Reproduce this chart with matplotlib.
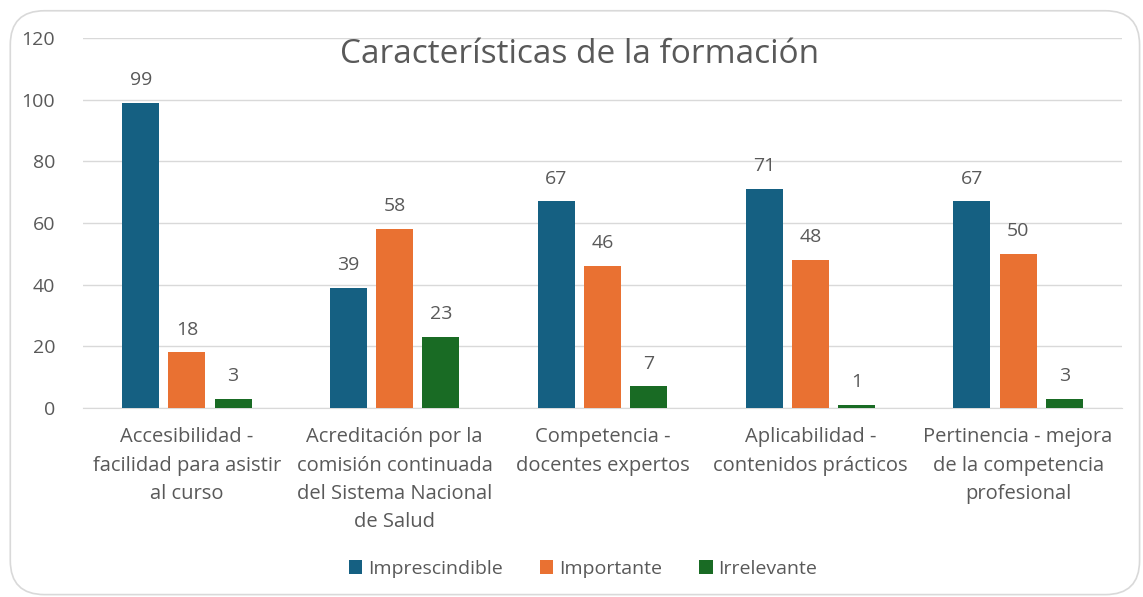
import numpy as np
import matplotlib.pyplot as plt
from matplotlib.patches import FancyBboxPatch

plt.rcParams['font.family'] = ['Open Sans', 'DejaVu Sans']

categories = ["Accesibilidad -\nfacilidad para asistir\nal curso",
              "Acreditación por la\ncomisión continuada\ndel Sistema Nacional\nde Salud",
              "Competencia -\ndocentes expertos",
              "Aplicabilidad -\ncontenidos prácticos",
              "Pertinencia - mejora\nde la competencia\nprofesional"]
series_names = ["Imprescindible", "Importante", "Irrelevante"]
imprescindible = [99, 39, 67, 71, 67]
importante = [18, 58, 46, 48, 50]
irrelevante = [3, 23, 7, 1, 3]
colors = ["#156082", "#E97132", "#196B24"]
text_color = "#595959"

fig = plt.figure(figsize=(11.43, 5.97), dpi=100)
fig.patches.append(FancyBboxPatch((0.009, 0.004), 0.988, 0.978, boxstyle="round,pad=0,rounding_size=0.03",
                                  transform=fig.transFigure, facecolor="white", edgecolor="#D9D9D9",
                                  linewidth=1.2, mutation_aspect=1.9, zorder=-5))
ax = fig.add_axes([0.0726, 0.3166, 0.909, 0.6197])
ax.set_facecolor("none")

x = np.arange(len(categories))
w = 0.178
step = 0.222
for i, (vals, name, c) in enumerate(zip([imprescindible, importante, irrelevante], series_names, colors)):
    pos = x + (i - 1) * step
    ax.bar(pos, vals, w, color=c, label=name, zorder=3)
    for p, v in zip(pos, vals):
        ax.text(p, v + 4.5, str(v), ha="center", va="bottom", fontsize=14, color=text_color)

ax.set_xlim(-0.5, len(categories) - 0.5)
ax.set_ylim(0, 120)
ax.set_yticks(range(0, 121, 20))
ax.grid(axis="y", color="#D9D9D9", linewidth=1, zorder=0)
for s in ["top", "right", "left"]:
    ax.spines[s].set_visible(False)
ax.spines["bottom"].set_color("#D9D9D9")
ax.tick_params(axis="both", length=0, colors=text_color, labelsize=14)
ax.tick_params(axis="y", pad=20)
ax.set_xticks(x)
ax.set_xticklabels(categories, fontsize=14.5, linespacing=1.55)
ax.tick_params(axis="x", pad=14)

fig.text(0.507, 0.908, "Características de la formación", ha="center", va="center", fontsize=24, color=text_color)
fig.legend(loc="center", bbox_to_anchor=(0.51, 0.047), ncol=3, frameon=False, fontsize=14,
           labelcolor=text_color, handlelength=0.7, handleheight=0.7, handletextpad=0.3, columnspacing=1.9)

fig.savefig("out.png", dpi=100)
